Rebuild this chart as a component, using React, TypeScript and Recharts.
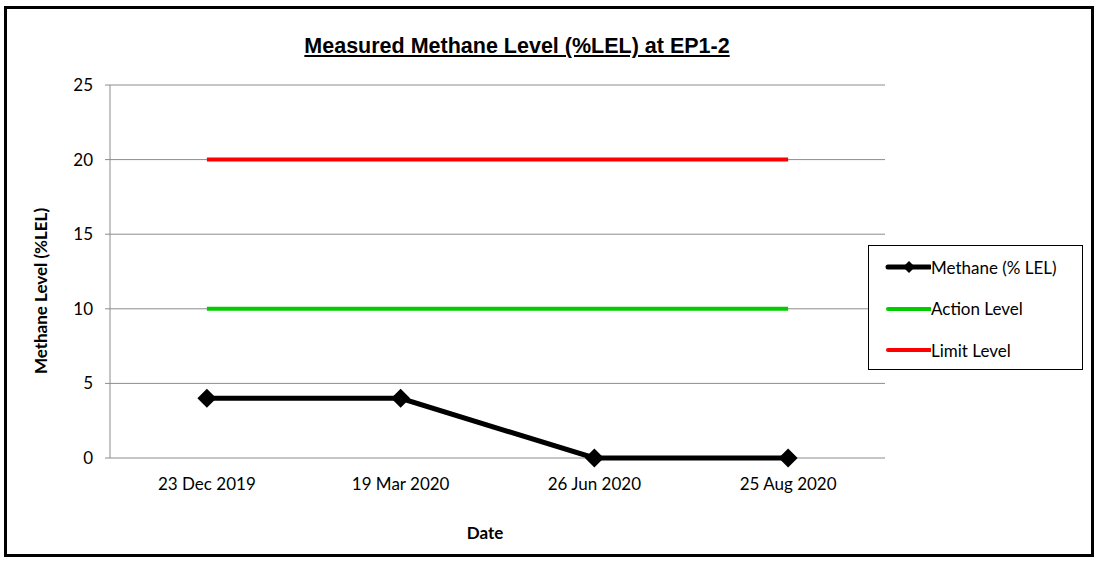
import { LineChart, Line, XAxis, YAxis, CartesianGrid } from 'recharts';

const dates = ['23 Dec 2019', '19 Mar 2020', '26 Jun 2020', '25 Aug 2020'];
const methane = [4, 4, 0, 0];
const actionLevel = [10, 10, 10, 10];
const limitLevel = [20, 20, 20, 20];
const yTicks = [0, 5, 10, 15, 20, 25];
const boundaryTicks = [0, 1, 2, 3, 4];

const data = dates.map((d, i) => ({
  date: d,
  methane: methane[i],
  action: actionLevel[i],
  limit: limitLevel[i],
}));

const FONT = 'Lato, "Open Sans", sans-serif';

const Diamond = (props: any) => {
  const { cx, cy } = props;
  if (cx == null || cy == null) return null;
  const r = 9.5;
  return <polygon points={`${cx},${cy - r} ${cx + r},${cy} ${cx},${cy + r} ${cx - r},${cy}`} fill="#000" />;
};

const legendItems = [
  { label: 'Methane (% LEL)', color: '#000', marker: true },
  { label: 'Action Level', color: '#00CC00', marker: false },
  { label: 'Limit Level', color: '#FF0000', marker: false },
];

const ChartLegend = () => (
  <div
    style={{
      position: 'absolute',
      left: 868,
      top: 245,
      width: 215,
      height: 125,
      border: '1px solid #000',
      background: '#fff',
      boxSizing: 'border-box',
      fontFamily: FONT,
      fontSize: 17,
      color: '#000',
    }}
  >
    {legendItems.map((it, i) => (
      <div
        key={it.label}
        style={{ position: 'absolute', left: 0, top: 10 + i * 41.5, display: 'flex', alignItems: 'center', height: 22 }}
      >
        <svg width={62} height={20} style={{ display: 'block' }}>
          <line x1={19} y1={10} x2={61} y2={10} stroke={it.color} strokeWidth={it.marker ? 5 : 4} strokeLinecap="round" />
          {it.marker && <polygon points="40,4 46,10 40,16 34,10" fill="#000" />}
        </svg>
        <span>{it.label}</span>
      </div>
    ))}
  </div>
);

export default function App() {
  return (
    <div style={{ position: 'absolute', left: 0, top: 0, width: 1101, height: 564, background: '#fff' }}>
      <div
        style={{
          position: 'absolute',
          left: 4,
          top: 6,
          width: 1090,
          height: 551,
          border: '3px solid #000',
          boxSizing: 'border-box',
        }}
      />
      <LineChart
        width={1101}
        height={564}
        data={data}
        margin={{ top: 85, right: 216, bottom: 76, left: 50 }}
        style={{ position: 'absolute', left: 0, top: 0 }}
      >
        <CartesianGrid vertical={false} stroke="#8c8c8c" strokeWidth={1} />
        <XAxis
          xAxisId="bounds"
          type="number"
          domain={[0, 4]}
          ticks={boundaryTicks}
          tick={false}
          tickSize={5}
          tickLine={{ stroke: '#8c8c8c' }}
          axisLine={{ stroke: '#8c8c8c' }}
          height={0}
        />
        <XAxis
          dataKey="date"
          scale="band"
          tickLine={false}
          axisLine={false}
          tickMargin={14}
          height={30}
          tick={{ fill: '#000', fontSize: 17, fontFamily: FONT }}
          interval={0}
        />
        <YAxis
          domain={[0, 25]}
          ticks={yTicks}
          width={60}
          tickSize={5}
          tickMargin={12}
          tickLine={{ stroke: '#8c8c8c' }}
          axisLine={{ stroke: '#8c8c8c' }}
          tick={{ fill: '#000', fontSize: 17, fontFamily: FONT }}
        />
        <Line
          dataKey="methane"
          stroke="#000"
          strokeWidth={5}
          dot={<Diamond />}
          activeDot={false}
          isAnimationActive={false}
        />
        <Line dataKey="action" stroke="#00CC00" strokeWidth={4} dot={false} activeDot={false} isAnimationActive={false} />
        <Line dataKey="limit" stroke="#FF0000" strokeWidth={4} dot={false} activeDot={false} isAnimationActive={false} />
      </LineChart>
      <ChartLegend />
      <div
        style={{
          position: 'absolute',
          left: 0,
          width: 1034,
          top: 34,
          textAlign: 'center',
          fontFamily: '"Liberation Sans", Arial, sans-serif',
          fontWeight: 'bold',
          fontSize: 21.5,
          textDecoration: 'underline',
          color: '#000',
        }}
      >
        Measured Methane Level (%LEL) at EP1-2
      </div>
      <div
        style={{
          position: 'absolute',
          left: 0,
          width: 970,
          top: 522,
          textAlign: 'center',
          fontFamily: FONT,
          fontWeight: 'bold',
          fontSize: 17,
          color: '#000',
        }}
      >
        Date
      </div>
      <div
        style={{
          position: 'absolute',
          left: 40,
          top: 291,
          transform: 'translate(-50%, -50%) rotate(-90deg)',
          whiteSpace: 'nowrap',
          fontFamily: FONT,
          fontWeight: 'bold',
          fontSize: 17,
          color: '#000',
        }}
      >
        Methane Level (%LEL)
      </div>
    </div>
  );
}
